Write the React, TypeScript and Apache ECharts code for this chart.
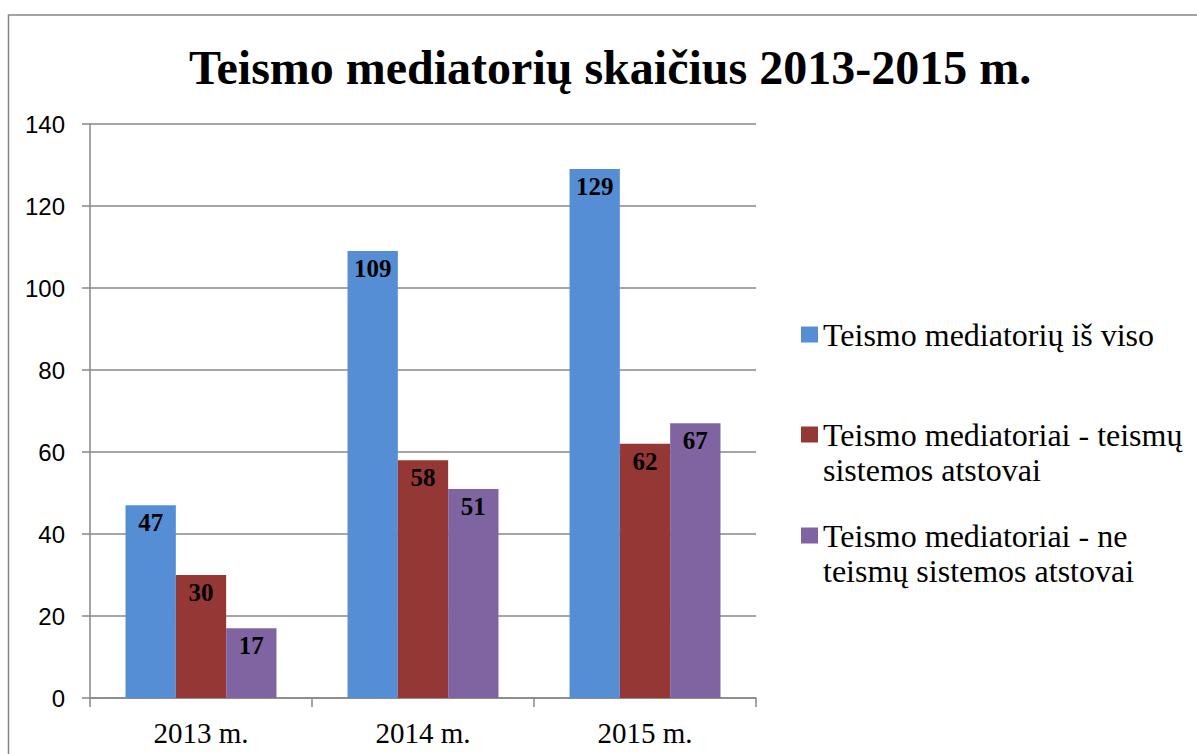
import React, { useEffect, useRef } from "react";
import * as echarts from "echarts";

const categories = ["2013 m.", "2014 m.", "2015 m."];
const seriesNames = [
  "Teismo mediatorių iš viso",
  "Teismo mediatoriai - teismų sistemos atstovai",
  "Teismo mediatoriai - ne teismų sistemos atstovai",
];
const legendLines = [
  ["Teismo mediatorių iš viso"],
  ["", "Teismo mediatoriai - teismų", "sistemos atstovai"],
  ["", "Teismo mediatoriai - ne", "teismų sistemos atstovai"],
];
const totalValues = [47, 109, 129];
const courtValues = [30, 58, 62];
const nonCourtValues = [17, 51, 67];
const colors = ["#558ED5", "#953735", "#8064A2"];
const titleText = "Teismo mediatorių skaičius 2013-2015 m.";

const serif = "Liberation Serif";
const sans = "Liberation Sans";
const gray = "#878787";

export default function App() {
  const ref = useRef<HTMLDivElement>(null);
  useEffect(() => {
    if (!ref.current) return;
    const chart = echarts.init(ref.current, undefined, { renderer: "svg" });
    const values = [totalValues, courtValues, nonCourtValues];
    const lineH = 35;
    const legendTops = [317, 382, 483];
    const legendText = {
      fontFamily: serif,
      fontSize: 32,
      color: "#000",
      lineHeight: lineH,
      rich: {
        t: { fontFamily: serif, fontSize: 32, color: "#000", lineHeight: lineH },
      },
    };
    chart.setOption({
      animation: false,
      backgroundColor: "#fff",
      title: {
        text: titleText,
        left: 605,
        textAlign: "center",
        top: 38,
        textStyle: { fontFamily: serif, fontWeight: "bold", fontSize: 48, color: "#000" },
      },
      legend: seriesNames.map((name, i) => ({
        data: [name],
        orient: "vertical",
        left: 801,
        top: legendTops[i],
        padding: 0,
        icon: "rect",
        itemWidth: 17,
        itemHeight: 16,
        itemGap: 0,
        selectedMode: false,
        formatter: () => legendLines[i].map((l) => (l ? `{t|${l}}` : "{t| }")).join("\n"),
        textStyle: legendText,
      })),
      grid: { left: 90, top: 124, width: 666, height: 574, containLabel: false },
      xAxis: {
        type: "category",
        data: categories,
        axisLine: { lineStyle: { color: gray, width: 1.5 } },
        axisTick: { show: true, alignWithLabel: false, length: 9, lineStyle: { color: gray, width: 1.5 } },
        axisLabel: { fontFamily: serif, fontSize: 29, color: "#000", margin: 20 },
      },
      yAxis: {
        type: "value",
        min: 0,
        max: 140,
        interval: 20,
        axisLine: { show: true, lineStyle: { color: gray, width: 1.5 } },
        axisTick: { show: true, length: 8, lineStyle: { color: gray, width: 1.5 } },
        splitLine: { lineStyle: { color: gray, width: 1.5 } },
        axisLabel: { fontFamily: sans, fontSize: 24, color: "#000", margin: 25 },
      },
      graphic: [
        {
          type: "rect",
          shape: { x: 8.5, y: 15, width: 1300, height: 900 },
          style: { fill: "none", stroke: gray, lineWidth: 1.5 },
          silent: true,
          z: -1,
        },
      ],
      series: seriesNames.map((name, i) => ({
        name,
        type: "bar",
        data: values[i],
        barGap: "0%",
        barCategoryGap: "32%",
        itemStyle: { color: colors[i] },
        label: {
          show: true,
          position: "insideTop",
          distance: 5,
          fontFamily: serif,
          fontWeight: "bold",
          fontSize: 25,
          color: "#000",
        },
      })),
    });
    return () => chart.dispose();
  }, []);
  return (
    <div
      ref={ref}
      style={{ position: "fixed", left: 0, top: 0, width: 1197, height: 754 }}
    />
  );
}
